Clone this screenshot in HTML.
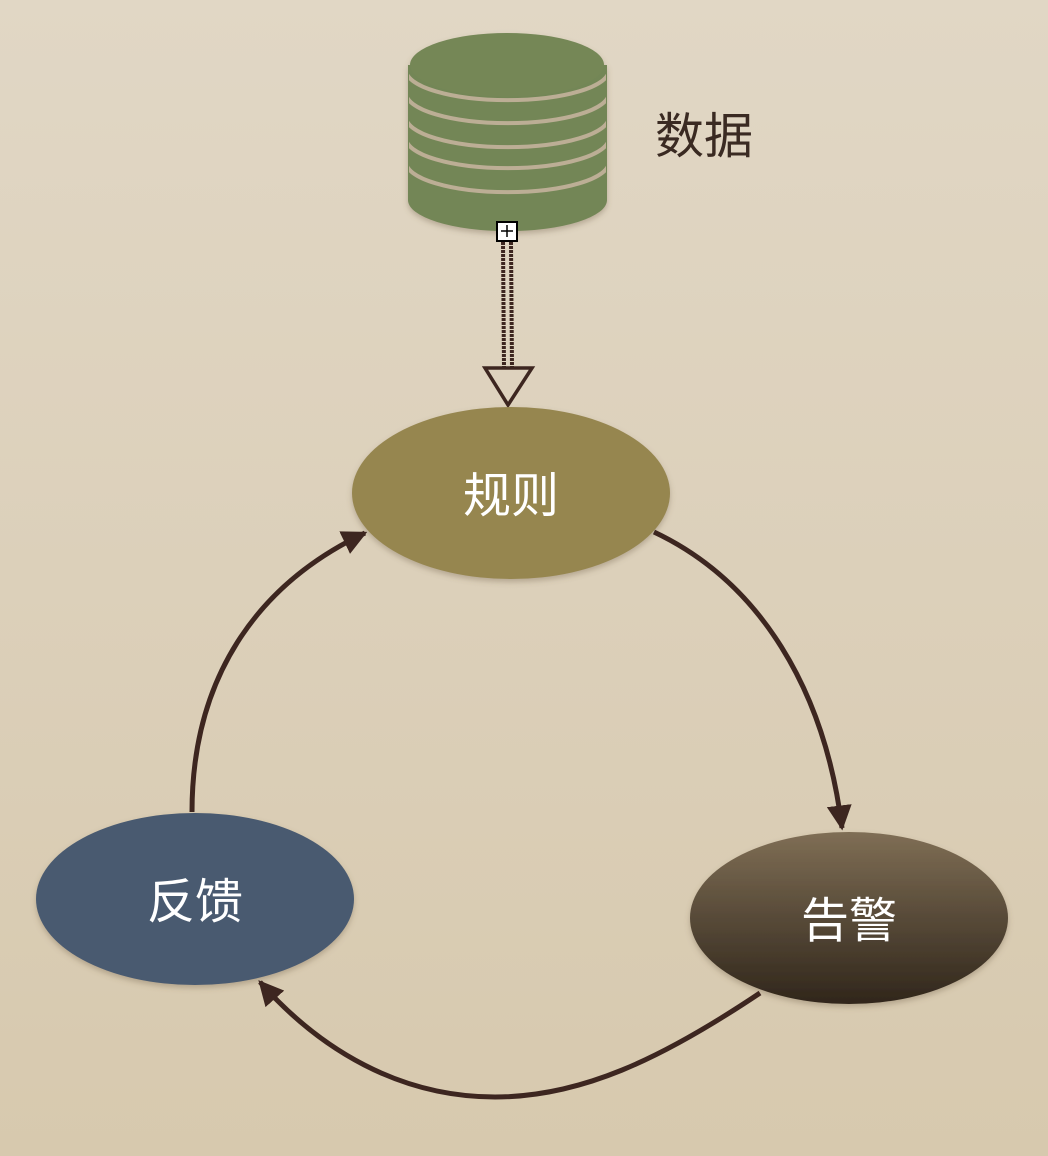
<!DOCTYPE html>
<html><head><meta charset="utf-8"><style>
html,body{margin:0;padding:0;}
body{width:1048px;height:1156px;overflow:hidden;background:linear-gradient(180deg,#e1d7c5 0%,#dcd0ba 50%,#d7c9ae 100%);}
svg{display:block}
text{font-family:"Liberation Sans","Noto Sans CJK SC",sans-serif;}
</style></head><body>
<svg width="1048" height="1156" viewBox="0 0 1048 1156" xmlns="http://www.w3.org/2000/svg">
<defs>
<linearGradient id="g3" x1="0" y1="0" x2="0" y2="1">
<stop offset="0" stop-color="#7f6e55"/><stop offset="1" stop-color="#30261b"/>
</linearGradient>
<marker id="ah" viewBox="0 0 10 10" refX="9" refY="5" markerWidth="5" markerHeight="5" orient="auto" markerUnits="strokeWidth">
<path d="M0,0 L10,5 L0,10 z" fill="#3d2620"/>
</marker>
<clipPath id="cyl"><path d="M409,60 L409,200 A98,31 0 0 0 606,200 L606,60 z"/></clipPath>
<filter id="sh" x="-20%" y="-20%" width="140%" height="140%"><feDropShadow dx="0" dy="3" stdDeviation="3" flood-color="#6b5a40" flood-opacity="0.35"/></filter>
</defs>

<!-- database -->
<g filter="url(#sh)">
<path d="M408,65 L408,200 A99,31 0 0 0 607,200 L607,65 z" fill="#738657"/>
<g fill="none" stroke="#bcae95" stroke-width="4" clip-path="url(#cyl)">
<path d="M406,70 A101,30 0 0 0 609,70"/>
<path d="M406,93 A101,30 0 0 0 609,93"/>
<path d="M406,117 A101,30 0 0 0 609,117"/>
<path d="M406,138 A101,30 0 0 0 609,138"/>
<path d="M406,162 A101,30 0 0 0 609,162"/>
</g>
<ellipse cx="507" cy="65" rx="97" ry="32" fill="#748757"/>
</g>
<text x="655" y="153" font-size="49" fill="#3a2a22">数据</text>

<!-- sketchy arrow -->
<rect x="497" y="222" width="20" height="19" fill="#fff" stroke="#000" stroke-width="2"/>
<path d="M501,231 h12 M507,225 v12" stroke="#000" stroke-width="1.5"/>
<path d="M503,242 L504,368 M511,242 L512,368" stroke="#3d2620" stroke-width="4" stroke-dasharray="3 1"/>
<path d="M485,368 L532,368 L508,405 z" fill="none" stroke="#3d2620" stroke-width="3.5"/>

<!-- ellipses -->
<ellipse cx="511" cy="493" rx="159" ry="86" fill="#968650" filter="url(#sh)"/>
<text x="511" y="512" font-size="48" fill="#fff" text-anchor="middle">规则</text>
<ellipse cx="195" cy="899" rx="159" ry="86" fill="#485a70" filter="url(#sh)"/>
<text x="195" y="918" font-size="48" fill="#fff" text-anchor="middle">反馈</text>
<ellipse cx="849" cy="918" rx="159" ry="86" fill="url(#g3)" filter="url(#sh)"/>
<text x="849" y="937" font-size="48" fill="#fff" text-anchor="middle">告警</text>

<!-- connectors -->
<g fill="none" stroke="#3d2620" stroke-width="5" marker-end="url(#ah)">
<path d="M654,532 C760,582 825,690 842,828"/>
<path d="M192,812 C192,680 255,585 365,533"/>
<path d="M760,993 C660,1060 580,1097 495,1097 C400,1097 320,1050 260,982"/>
</g>
</svg>
</body></html>
